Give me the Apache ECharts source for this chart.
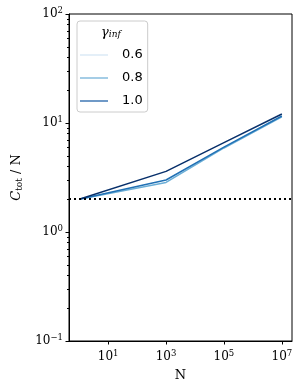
<!DOCTYPE html>
<html>
<head>
<meta charset="utf-8">
<script src="https://cdn.jsdelivr.net/npm/echarts@6/dist/echarts.min.js"></script>
<style>
html,body{margin:0;padding:0;background:#fff;}
#c{width:302px;height:390px;}
</style>
</head>
<body>
<div id="c"></div>
<script>
// Data
const N = [1, 1e3, 1e5, 1e7];
const gamma06 = [2.0, 2.85, 5.9, 11.4];
const gamma08 = [2.0, 3.0, 6.0, 11.6];
const gamma10 = [2.0, 3.6, 6.6, 12.1];
const seriesNames = ['0.6', '0.8', '1.0'];
const xTickValues = [10, 1e3, 1e5, 1e7];
const yTickValues = [0.1, 1, 10, 100];
const yMinorValues = [];
[0.1, 1, 10].forEach(function (d) { for (let k = 2; k <= 9; k++) yMinorValues.push(+(d * k).toPrecision(3)); });
const baseline = 2;

const serif = 'DejaVu Serif';
function powLabel(v) {
  const e = Math.round(Math.log10(v));
  return '{b|10}{s|' + (e < 0 ? '\u2212' + (-e) : e) + '}';
}
const richLab = {
  b: { fontFamily: serif, fontSize: 12, color: '#000' },
  s: { fontFamily: serif, fontSize: 8.5, color: '#000', padding: [0, 0, 7, 0] }
};

function pairs(vals) { return N.map(function (n, i) { return [n, vals[i]]; }); }

const chart = echarts.init(document.getElementById('c'), null, { renderer: 'canvas' });
const plotColors = ['#6baed6', '#2171b5', '#08306b'];
const legendColors = ['#deebf7', '#8fc1e0', '#4b80ba'];
const allVals = [gamma06, gamma08, gamma10];

chart.setOption({
  animation: false,
  backgroundColor: '#fff',
  grid: { left: 69, right: 10, top: 14, bottom: 49, show: true, borderColor: '#000', borderWidth: 1, containLabel: false },
  xAxis: {
    type: 'log', logBase: 10,
    min: Math.pow(10, -0.35), max: Math.pow(10, 7.35),
    name: 'N', nameLocation: 'middle', nameGap: 28,
    nameTextStyle: { fontFamily: serif, fontSize: 13, color: '#000' },
    axisLine: { show: true, lineStyle: { color: '#000', width: 1 } },
    axisTick: { show: true, length: 3.5, lineStyle: { color: '#000' }, customValues: xTickValues },
    axisLabel: { customValues: xTickValues, formatter: function (v) { return powLabel(v); }, rich: richLab, margin: 8 },
    splitLine: { show: false }, minorTick: { show: false }
  },
  yAxis: [{
    type: 'log', logBase: 10, min: 0.1, max: 100,
    name: '{c|C}{sub|tot}{n| / N}', nameLocation: 'middle', nameGap: 44, nameRotate: 90,
    nameTextStyle: {
      rich: {
        c: { fontFamily: serif, fontStyle: 'italic', fontSize: 13, color: '#000' },
        sub: { fontFamily: serif, fontSize: 9, color: '#000', padding: [6, 0, 0, 0] },
        n: { fontFamily: serif, fontSize: 13, color: '#000' }
      }
    },
    axisLine: { show: true, lineStyle: { color: '#000', width: 1 } },
    axisTick: { show: true, length: 3.5, lineStyle: { color: '#000' }, customValues: yTickValues },
    axisLabel: { customValues: yTickValues, formatter: function (v) { return powLabel(v); }, rich: richLab, margin: 6 },
    splitLine: { show: false }
  }, {
    type: 'log', logBase: 10, min: 0.1, max: 100, position: 'left',
    axisLine: { show: false },
    axisTick: { show: true, length: 2, lineStyle: { color: '#000' }, customValues: yMinorValues },
    axisLabel: { show: false },
    splitLine: { show: false }
  }],
  legend: {
    orient: 'vertical', left: 77, top: 21,
    padding: [27, 5, 4, 3],
    itemWidth: 28, itemHeight: 14, itemGap: 9,
    borderColor: '#cccccc', borderWidth: 1, borderRadius: 3,
    backgroundColor: 'rgba(255,255,255,0.8)',
    textStyle: { fontFamily: 'DejaVu Sans', fontSize: 13, color: '#000', padding: [0, 0, 0, 9] },
    data: seriesNames.map(function (n, i) {
      return {
        name: n,
        icon: 'path://M0,0 L0,0 M0,6.2 L28,6.2 L28,7.8 L0,7.8 Z M28,14 L28,14',
        itemStyle: { color: legendColors[i], borderWidth: 0 },
        lineStyle: { color: legendColors[i], width: 0 }
      };
    })
  },
  graphic: [{
    type: 'text', left: 101, top: 26, z: 100,
    style: {
      text: '{g|\u03b3}{s|inf}',
      rich: {
        g: { fontFamily: serif, fontStyle: 'italic', fontSize: 13, fill: '#000' },
        s: { fontFamily: serif, fontStyle: 'italic', fontSize: 9, fill: '#000', padding: [5, 0, 0, 0] }
      }
    }
  }],
  series: seriesNames.map(function (n, i) {
    const s = {
      name: n, type: 'line', data: pairs(allVals[i]), symbol: 'none',
      lineStyle: { width: 1.5, color: plotColors[i] }, itemStyle: { color: plotColors[i] },
      z: 2 + i
    };
    if (i === 0) {
      s.markLine = {
        silent: true, symbol: 'none', label: { show: false },
        lineStyle: { color: '#000', type: [2, 3], width: 2 },
        data: [{ yAxis: baseline }]
      };
    }
    return s;
  })
});
</script>
</body>
</html>
